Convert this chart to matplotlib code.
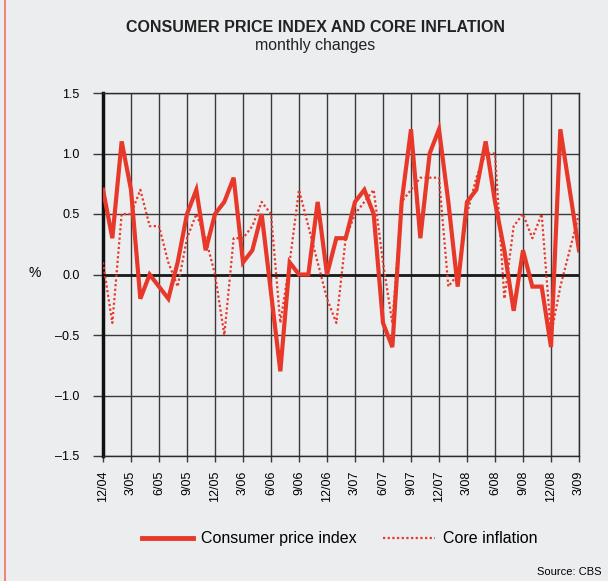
import matplotlib
matplotlib.use("Agg")
import matplotlib.pyplot as plt
from matplotlib.lines import Line2D

# monthly changes, 12/04 .. 3/09
months = ["12/04", "1/05", "2/05", "3/05", "4/05", "5/05", "6/05", "7/05", "8/05", "9/05",
          "10/05", "11/05", "12/05", "1/06", "2/06", "3/06", "4/06", "5/06", "6/06", "7/06",
          "8/06", "9/06", "10/06", "11/06", "12/06", "1/07", "2/07", "3/07", "4/07", "5/07",
          "6/07", "7/07", "8/07", "9/07", "10/07", "11/07", "12/07", "1/08", "2/08", "3/08",
          "4/08", "5/08", "6/08", "7/08", "8/08", "9/08", "10/08", "11/08", "12/08", "1/09",
          "2/09", "3/09"]

cpi = [0.7, 0.3, 1.1, 0.7, -0.2, 0.0, -0.1, -0.2, 0.1, 0.5,
       0.7, 0.2, 0.5, 0.6, 0.8, 0.1, 0.2, 0.5, -0.15, -0.8,
       0.1, 0.0, 0.0, 0.6, 0.0, 0.3, 0.3, 0.6, 0.7, 0.5,
       -0.4, -0.6, 0.6, 1.2, 0.3, 1.0, 1.2, 0.6, -0.1, 0.6,
       0.7, 1.1, 0.6, 0.2, -0.3, 0.2, -0.1, -0.1, -0.6, 1.2,
       0.7, 0.2]

core = [0.1, -0.4, 0.5, 0.5, 0.7, 0.4, 0.4, 0.1, -0.1, 0.3,
        0.5, 0.3, 0.0, -0.5, 0.3, 0.3, 0.4, 0.6, 0.5, -0.4,
        0.1, 0.7, 0.4, 0.1, -0.2, -0.4, 0.3, 0.5, 0.6, 0.7,
        0.1, -0.4, 0.6, 0.7, 0.8, 0.8, 0.8, -0.1, 0.0, 0.5,
        0.8, 1.0, 1.0, -0.2, 0.4, 0.5, 0.3, 0.5, -0.5, -0.1,
        0.2, 0.5]

y_ticks = [-1.5, -1.0, -0.5, 0.0, 0.5, 1.0, 1.5]
y_labels = ["\u20131.5", "\u20131.0", "\u20130.5", "0.0", "0.5", "1.0", "1.5"]

bg = "#ECEDEF"
red = "#E8382A"
dots = (0, (1, 1.1))

plt.rcParams["font.family"] = ["Liberation Sans", "DejaVu Sans"]

fig = plt.figure(figsize=(6.08, 5.81), dpi=100, facecolor=bg)
ax = fig.add_axes([103 / 608, 1 - 456 / 581, 476 / 608, 363 / 581])
ax.set_facecolor(bg)

x = list(range(len(months)))
tick_pos = x[::3]

# grid
for t in tick_pos:
    ax.axvline(t, color="#3a3a3a", lw=1.0, zorder=1)
for v in y_ticks:
    ax.axhline(v, color="#3a3a3a", lw=1.0, zorder=1)
ax.axhline(0, color="#1a1a1a", lw=2.0, zorder=1)

ax.plot(x, core, color=red, lw=1.6, linestyle=dots, zorder=3)
ax.plot(x, cpi, color=red, lw=3.0, solid_joinstyle="miter", zorder=4)

ax.set_xlim(0, len(months) - 1)
ax.set_ylim(-1.5, 1.5)
ax.set_xticks(tick_pos)
ax.set_xticklabels([months[i] for i in tick_pos], rotation=90, fontsize=9)
ax.set_yticks(y_ticks)
ax.set_yticklabels(y_labels, fontsize=9)
ax.tick_params(axis="y", length=7, width=1, color="#3a3a3a", pad=10)
ax.tick_params(axis="x", length=4, width=1, color="#3a3a3a", pad=6.5)

for s in ["top", "right", "bottom"]:
    ax.spines[s].set_color("#2a2a2a")
    ax.spines[s].set_linewidth(1.0)
ax.spines["left"].set_color("#111111")
ax.spines["left"].set_linewidth(2.5)

fig.text(35 / 608, 1 - 273 / 581, "%", fontsize=10, ha="center", va="center")

fig.text(315 / 608, 1 - 27 / 581, "CONSUMER PRICE INDEX AND CORE INFLATION",
         fontsize=11.5, fontweight="bold", ha="center", va="center", color="#222222")
fig.text(315 / 608, 1 - 45.5 / 581, "monthly changes", fontsize=11.4,
         ha="center", va="center", color="#222222")

# legend, drawn by hand so both labels share one baseline
ly = 1 - 538 / 581
fig.add_artist(Line2D([142 / 608, 193 / 608], [ly, ly], color=red, lw=3.5))
fig.text(201 / 608, 1 - 543 / 581, "Consumer price index", fontsize=11.5,
         ha="left", va="baseline")
fig.add_artist(Line2D([383 / 608, 435 / 608], [ly, ly], color=red, lw=1.6, linestyle=dots))
fig.text(443 / 608, 1 - 543 / 581, "Core inflation", fontsize=11.5,
         ha="left", va="baseline")

fig.text(537 / 608, 1 - 572 / 581, "Source: CBS", fontsize=8, ha="left", va="center")
fig.text(0.042, 1.0 + 3 / 581, "g", fontsize=9, ha="left", va="baseline")

# red frame line on left
fig.add_artist(Line2D([4.5 / 608, 4.5 / 608], [0, 1], color="#F07060", lw=1.2))

fig.savefig("out.png", dpi=100, facecolor=bg)
